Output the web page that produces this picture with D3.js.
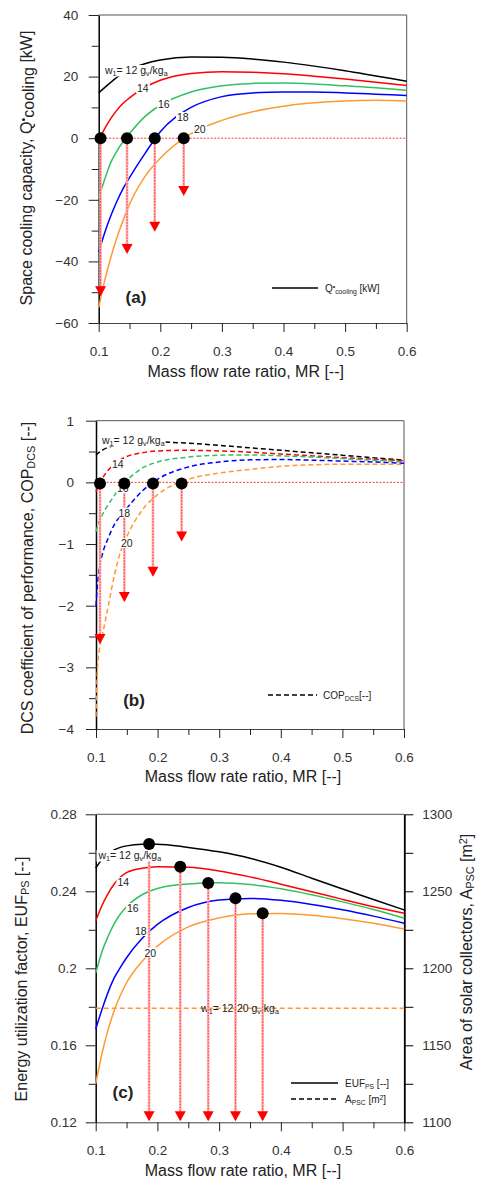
<!DOCTYPE html>
<html>
<head>
<meta charset="utf-8">
<script src="https://cdn.jsdelivr.net/npm/d3@7"></script>
<style>
  body { margin: 0; background: #fff; }
  svg { display: block; }
  text { font-family: "Liberation Sans", Arial, sans-serif; }
</style>
</head>
<body>
<svg id="fig" width="477" height="1182"></svg>
<script>
// ---------- data ----------
const humidityLevels = [12, 14, 16, 18, 20];               // w1 [g_v/kg_a]
const seriesColors = ["#000000", "#ff0000", "#33c060", "#0000ff", "#ff9933"];
const mrTicks = [0.1, 0.2, 0.3, 0.4, 0.5, 0.6];
const mrMinorTicks = [0.15, 0.25, 0.35, 0.45, 0.55];

// (a) space cooling capacity [kW]
const mrA = [0.1, 0.11, 0.12, 0.13, 0.14, 0.15, 0.175, 0.2, 0.25, 0.3, 0.35, 0.4, 0.45, 0.5, 0.55, 0.6];
const qCool12 = [14.7, 16.5, 18.2, 19.8, 21.2, 22.3, 24.2, 25.4, 26.4, 26.3, 25.7, 24.7, 23.4, 21.9, 20.2, 18.5];
const qCool14 = [-0.5, 3.2, 6.5, 9.2, 11.4, 13.1, 16.5, 18.8, 21.0, 21.6, 21.4, 20.9, 20.1, 19.2, 18.2, 17.1];
const qCool16 = [-19.5, -13.2, -7.7, -4.0, -1.0, 1.5, 7.0, 10.7, 15.0, 17.0, 17.8, 17.9, 17.6, 17.0, 16.4, 15.6];
const qCool18 = [-37, -30.5, -25, -20.3, -16.2, -12.8, -5.0, 2.1, 10.0, 13.5, 14.7, 15.0, 15.0, 14.7, 14.3, 13.9];
const qCool20 = [-55, -46, -38.5, -32, -26.5, -21.5, -12.5, -6.5, 1.5, 5.8, 8.6, 10.4, 11.5, 12.1, 12.3, 12.1];
const qTicks = [-60, -40, -20, 0, 20, 40];
const qMinorTicks = [-50, -30, -10, 10, 30];
const zeroMrA = [0.103, 0.146, 0.191, 0.238];
const arrowEndA = [-51.3, -37.6, -30.4, -18.8];

// (b) DCS coefficient of performance [-]
const mrB = [0.1, 0.102, 0.105, 0.11, 0.12, 0.13, 0.14, 0.15, 0.175, 0.2, 0.25, 0.3, 0.35, 0.4, 0.45, 0.5, 0.55, 0.6];
const cop12 = [0.44, 0.46, 0.485, 0.52, 0.57, 0.60, 0.62, 0.635, 0.65, 0.655, 0.635, 0.60, 0.56, 0.52, 0.48, 0.44, 0.40, 0.36];
const cop14 = [-0.15, -0.1, -0.03, 0.06, 0.20, 0.30, 0.37, 0.42, 0.48, 0.51, 0.52, 0.51, 0.49, 0.46, 0.43, 0.40, 0.375, 0.35];
const cop16 = [-0.8, -0.73, -0.64, -0.53, -0.36, -0.21, -0.08, 0.03, 0.23, 0.33, 0.41, 0.44, 0.445, 0.43, 0.41, 0.385, 0.36, 0.33];
const cop18 = [-2.0, -1.7, -1.42, -1.18, -0.9, -0.68, -0.54, -0.42, -0.14, 0.05, 0.25, 0.33, 0.365, 0.37, 0.36, 0.345, 0.33, 0.31];
const cop20 = [-3.8, -3.1, -2.75, -2.5, -2.0, -1.5, -1.12, -0.88, -0.45, -0.2, 0.05, 0.15, 0.21, 0.26, 0.285, 0.295, 0.295, 0.29];
const copTicks = [-4, -3, -2, -1, 0, 1];
const copMinorTicks = [-3.5, -2.5, -1.5, -0.5, 0.5];
const zeroMrB = [0.1065, 0.146, 0.1925, 0.239];
const arrowEndB = [-2.62, -1.94, -1.53, -0.96];

// (c) energy utilization factor [-] and collector area [m2]
const mrC = [0.1, 0.11, 0.12, 0.13, 0.14, 0.15, 0.175, 0.2, 0.25, 0.3, 0.35, 0.4, 0.45, 0.5, 0.55, 0.6];
const euf12 = [0.252, 0.2565, 0.2595, 0.2615, 0.2628, 0.2636, 0.2645, 0.2645, 0.2628, 0.2605, 0.2572, 0.2525, 0.2468, 0.2412, 0.2357, 0.2303];
const euf14 = [0.2246, 0.2325, 0.2388, 0.2438, 0.2474, 0.2497, 0.2520, 0.2528, 0.2525, 0.2506, 0.2475, 0.2437, 0.2398, 0.2358, 0.2320, 0.2286];
const euf16 = [0.1975, 0.2085, 0.2165, 0.2232, 0.2282, 0.2320, 0.2382, 0.2415, 0.2438, 0.2444, 0.2435, 0.2413, 0.2382, 0.2345, 0.2305, 0.2260];
const euf18 = [0.1683, 0.1785, 0.1875, 0.1950, 0.2005, 0.2055, 0.2155, 0.2228, 0.2316, 0.2355, 0.2363, 0.2353, 0.2332, 0.2304, 0.2271, 0.2234];
const euf20 = [0.1400, 0.1555, 0.1680, 0.1780, 0.1860, 0.1925, 0.2035, 0.2115, 0.2215, 0.2262, 0.2283, 0.2285, 0.2276, 0.2258, 0.2234, 0.2204];
const areaPSC = [1174, 1174, 1174, 1174, 1174, 1174, 1174, 1174, 1174, 1174, 1174, 1174, 1174, 1174, 1174, 1174];
const eufTicks = [0.12, 0.16, 0.2, 0.24, 0.28];
const eufMinorTicks = [0.14, 0.18, 0.22, 0.26];
const areaTicks = [1100, 1150, 1200, 1250, 1300];
const areaMinorTicks = [1125, 1175, 1225, 1275];
const optMr = [0.1865, 0.237, 0.2823, 0.3265, 0.3705];
const optEuf = [0.2646, 0.2528, 0.2443, 0.2364, 0.2286];

// ---------- helpers ----------
const svg = d3.select("#fig");
const INK = "#222";

function richText(parent, x, y, parts, opts = {}) {
  const t = parent.append("text")
    .attr("x", x).attr("y", y)
    .attr("font-size", opts.size || 10.5)
    .attr("fill", opts.fill || INK)
    .attr("text-anchor", opts.anchor || "start");
  if (opts.transform) t.attr("transform", opts.transform);
  if (opts.weight) t.attr("font-weight", opts.weight);
  parts.forEach(p => {
    const [str, kind] = Array.isArray(p) ? p : [p, null];
    const s = t.append("tspan").text(str);
    if (kind === "sub") s.attr("font-size", "0.68em").attr("baseline-shift", "-22%");
    if (kind === "sup") s.attr("font-size", "0.68em").attr("baseline-shift", "45%");
    if (kind === "low") s.attr("baseline-shift", "-12%");
  });
  return t;
}

function boxedLabel(parent, x, y, parts, size) {
  const g = parent.append("g");
  const t = richText(g, x, y, parts, { size: size || 10.5 });
  const b = t.node().getBBox();
  g.insert("rect", "text")
    .attr("x", b.x - 1).attr("y", b.y + 1)
    .attr("width", b.width + 2).attr("height", b.height - 2)
    .attr("fill", "#fff");
  return g;
}

function w1Label(parent, x, y) {
  return boxedLabel(parent, x, y, ["w", ["1", "sub"], "= 12 g", ["v", "sub"], "/kg", ["a", "sub"]]);
}

function makePanel(cfg) {
  const g = svg.append("g");
  const x = d3.scaleLinear().domain([0.1, 0.6]).range([cfg.x0, cfg.x1]);
  const y = d3.scaleLinear().domain(cfg.yDomain).range([cfg.yBottom, cfg.yTop]);

  // frame (top and right)
  g.append("line").attr("x1", cfg.x0).attr("x2", cfg.x1).attr("y1", cfg.yTop).attr("y2", cfg.yTop)
    .attr("stroke", "#555").attr("stroke-width", 1);
  if (!cfg.rightAxis) {
    g.append("line").attr("x1", cfg.x1).attr("x2", cfg.x1).attr("y1", cfg.yTop).attr("y2", cfg.yBottom)
      .attr("stroke", "#555").attr("stroke-width", 1);
  }

  // x axis
  const xa = g.append("g").attr("transform", `translate(0,${cfg.yBottom})`)
    .call(d3.axisBottom(x).tickValues(mrTicks).tickFormat(d3.format(".1f"))
      .tickSize(9).tickPadding(14).tickSizeOuter(0));
  g.append("g").attr("transform", `translate(0,${cfg.yBottom})`)
    .call(d3.axisBottom(x).tickValues(mrMinorTicks).tickFormat("").tickSize(6).tickSizeOuter(0))
    .select(".domain").remove();
  xa.select(".domain").attr("stroke", "#444");

  // left y axis
  const ya = g.append("g").attr("transform", `translate(${cfg.x0},0)`)
    .call(d3.axisLeft(y).tickValues(cfg.yTicks).tickFormat(cfg.yFormat)
      .tickSize(10).tickPadding(cfg.yPad).tickSizeOuter(0));
  g.append("g").attr("transform", `translate(${cfg.x0},0)`)
    .call(d3.axisLeft(y).tickValues(cfg.yMinor).tickFormat("").tickSize(7).tickSizeOuter(0))
    .select(".domain").remove();
  ya.select(".domain").attr("stroke", "#000").attr("stroke-width", 1.5);

  g.selectAll(".tick text").attr("font-size", 13.5).attr("fill", "#333")
    .attr("font-family", "'Liberation Sans', Arial, sans-serif");
  g.selectAll(".tick line").attr("stroke", "#222");

  // x title
  g.append("text").attr("x", (cfg.x0 + cfg.x1) / 2 - 7).attr("y", cfg.xTitleY)
    .attr("text-anchor", "middle").attr("font-size", 16).attr("fill", INK)
    .text("Mass flow rate ratio, MR [--]");

  return { g, x, y };
}

function drawCurves(p, mr, seriesList, dashed) {
  const line = d3.line().x((d, i) => p.x(mr[i])).y(d => p.y(d)).curve(d3.curveMonotoneX);
  const layer = p.g.append("g");
  seriesList.forEach((vals, k) => {
    layer.append("path").attr("d", line(vals))
      .attr("fill", "none").attr("stroke", seriesColors[k])
      .attr("stroke-width", 1.5)
      .attr("stroke-dasharray", dashed ? "5,3" : null);
  });
  return layer;
}

function guideVertical(p, mrv, v0, v1) {
  const xv = p.x(mrv), ya = p.y(v0), yb = p.y(v1);
  p.g.append("line").attr("x1", xv).attr("x2", xv).attr("y1", ya).attr("y2", yb)
    .attr("stroke", "#ffb3b3").attr("stroke-width", 2.6);
  p.g.append("line").attr("x1", xv).attr("x2", xv).attr("y1", ya).attr("y2", yb)
    .attr("stroke", "#ff2020").attr("stroke-width", 0.9).attr("stroke-dasharray", "1.5,1.5");
}

function arrowHead(p, mrv, tipVal) {
  const xv = p.x(mrv), yt = p.y(tipVal);
  p.g.append("path")
    .attr("d", `M${xv - 5.5},${yt - 10} L${xv + 5.5},${yt - 10} L${xv},${yt} Z`)
    .attr("fill", "#ff0000");
}

function dot(p, mrv, v) {
  p.g.append("circle").attr("cx", p.x(mrv)).attr("cy", p.y(v)).attr("r", 6).attr("fill", "#000");
}

function zeroLine(p) {
  p.g.append("line").attr("x1", p.x(0.1)).attr("x2", p.x(0.6)).attr("y1", p.y(0)).attr("y2", p.y(0))
    .attr("stroke", "#ff2020").attr("stroke-width", 0.9).attr("stroke-dasharray", "2,1.5");
}

// ---------- (a) ----------
const pA = makePanel({
  x0: 98.7, x1: 406.7, yTop: 15, yBottom: 323, yDomain: [-60, 40],
  yTicks: qTicks, yMinor: qMinorTicks, yFormat: d3.format("d"), yPad: 10.5, xTitleY: 377
});
drawCurves(pA, mrA, [qCool12, qCool14, qCool16, qCool18, qCool20], false);
zeroLine(pA);
zeroMrA.forEach((m, i) => { guideVertical(pA, m, 0, arrowEndA[i] + 1); arrowHead(pA, m, arrowEndA[i]); });
zeroMrA.forEach(m => dot(pA, m, 0));
w1Label(pA.g, 105, 74);
boxedLabel(pA.g, 137, 92, ["14"]);
boxedLabel(pA.g, 158, 108, ["16"]);
boxedLabel(pA.g, 177, 121, ["18"]);
boxedLabel(pA.g, 194, 133, ["20"]);
pA.g.append("text").attr("x", 136).attr("y", 303).attr("text-anchor", "middle")
  .attr("font-size", 17).attr("font-weight", "bold").attr("fill", INK).text("(a)");
pA.g.append("line").attr("x1", 272).attr("x2", 318).attr("y1", 288).attr("y2", 288)
  .attr("stroke", "#000").attr("stroke-width", 1.5);
richText(pA.g, 325, 292, ["Q", ["•", "sup"], ["cooling", "sub"], " [kW]"], { size: 10 });
richText(svg, 32, 168, ["Space cooling capacity, Q", ["•", "sup"], ["cooling", "low"], " [kW]"],
  { size: 16, anchor: "middle", transform: "rotate(-90,32,168)" });

// ---------- (b) ----------
const pB = makePanel({
  x0: 96, x1: 404, yTop: 420.7, yBottom: 729, yDomain: [-4, 1],
  yTicks: copTicks, yMinor: copMinorTicks, yFormat: d3.format("d"), yPad: 12, xTitleY: 782
});
drawCurves(pB, mrB, [cop12, cop14, cop16, cop18, cop20], true);
zeroLine(pB);
zeroMrB.forEach((m, i) => { guideVertical(pB, m, 0, arrowEndB[i] + 0.02); arrowHead(pB, m, arrowEndB[i]); });
w1Label(pB.g, 102, 444);
boxedLabel(pB.g, 112, 468, ["14"]);
boxedLabel(pB.g, 117, 492, ["16"]);
boxedLabel(pB.g, 118.5, 516.5, ["18"]);
boxedLabel(pB.g, 121, 547, ["20"]);
zeroMrB.forEach(m => dot(pB, m, -0.02));
pB.g.append("text").attr("x", 134).attr("y", 706).attr("text-anchor", "middle")
  .attr("font-size", 17).attr("font-weight", "bold").attr("fill", INK).text("(b)");
pB.g.append("line").attr("x1", 268).attr("x2", 317).attr("y1", 695).attr("y2", 695)
  .attr("stroke", "#000").attr("stroke-width", 1.5).attr("stroke-dasharray", "5,3");
richText(pB.g, 323, 699, ["COP", ["DCS", "sub"], "[--]"], { size: 10 });
richText(svg, 33, 578, ["DCS coefficient of performance, COP", ["DCS", "sub"], " [--]"],
  { size: 16, anchor: "middle", transform: "rotate(-90,33,578)" });

// ---------- (c) ----------
const pC = makePanel({
  x0: 95.7, x1: 404.3, yTop: 814.3, yBottom: 1122.3, yDomain: [0.12, 0.28],
  yTicks: eufTicks, yMinor: eufMinorTicks, yFormat: d => String(+d.toFixed(2)), yPad: 9, xTitleY: 1176,
  rightAxis: true
});
const yArea = d3.scaleLinear().domain([1100, 1300]).range([1122.3, 814.3]);
const ra = pC.g.append("g").attr("transform", "translate(404.3,0)")
  .call(d3.axisRight(yArea).tickValues(areaTicks).tickFormat(d3.format("d"))
    .tickSize(9).tickPadding(9).tickSizeOuter(0));
pC.g.append("g").attr("transform", "translate(404.3,0)")
  .call(d3.axisRight(yArea).tickValues(areaMinorTicks).tickFormat("").tickSize(9).tickSizeOuter(0))
  .select(".domain").remove();
ra.select(".domain").attr("stroke", "#000").attr("stroke-width", 1.8);
ra.selectAll(".tick text").attr("font-size", 13.5).attr("fill", "#333")
  .attr("font-family", "'Liberation Sans', Arial, sans-serif");

drawCurves(pC, mrC, [euf12, euf14, euf16, euf18, euf20], false);
// collector area, identical for every w1
pC.g.append("path")
  .attr("d", d3.line().x((d, i) => pC.x(mrC[i])).y(d => yArea(d))(areaPSC))
  .attr("fill", "none").attr("stroke", "#ff9933").attr("stroke-width", 1.5)
  .attr("stroke-dasharray", "5,3");
richText(pC.g, 240, 1012, ["w", ["1", "sub"], "= 12-20 g", ["v", "sub"], "/kg", ["a", "sub"]],
  { size: 10.5, anchor: "middle" });

optMr.forEach((m, i) => { guideVertical(pC, m, optEuf[i], 0.1212); arrowHead(pC, m, 0.1205); });
w1Label(pC.g, 98.5, 859);
boxedLabel(pC.g, 117.5, 886, ["14"]);
boxedLabel(pC.g, 127, 912, ["16"]);
boxedLabel(pC.g, 135, 935, ["18"]);
boxedLabel(pC.g, 144.5, 956.5, ["20"]);
optMr.forEach((m, i) => dot(pC, m, optEuf[i]));

pC.g.append("text").attr("x", 123).attr("y", 1098).attr("text-anchor", "middle")
  .attr("font-size", 17).attr("font-weight", "bold").attr("fill", INK).text("(c)");
pC.g.append("line").attr("x1", 291).attr("x2", 338).attr("y1", 1083).attr("y2", 1083)
  .attr("stroke", "#000").attr("stroke-width", 1.5);
richText(pC.g, 345, 1087, ["EUF", ["PS", "sub"], " [--]"], { size: 10 });
pC.g.append("line").attr("x1", 291).attr("x2", 338).attr("y1", 1099).attr("y2", 1099)
  .attr("stroke", "#000").attr("stroke-width", 1.5).attr("stroke-dasharray", "5,3");
richText(pC.g, 345, 1103, ["A", ["PSC", "sub"], " [m", ["2", "sup"], "]"], { size: 10 });

richText(svg, 27, 979, ["Energy utilization factor, EUF", ["PS", "sub"], " [--]"],
  { size: 16, anchor: "middle", transform: "rotate(-90,27,979)" });
richText(svg, 472, 952, ["Area of solar collectors, A", ["PSC", "sub"], " [m", ["2", "sup"], "]"],
  { size: 16, anchor: "middle", transform: "rotate(-90,472,952)" });
</script>
</body>
</html>
